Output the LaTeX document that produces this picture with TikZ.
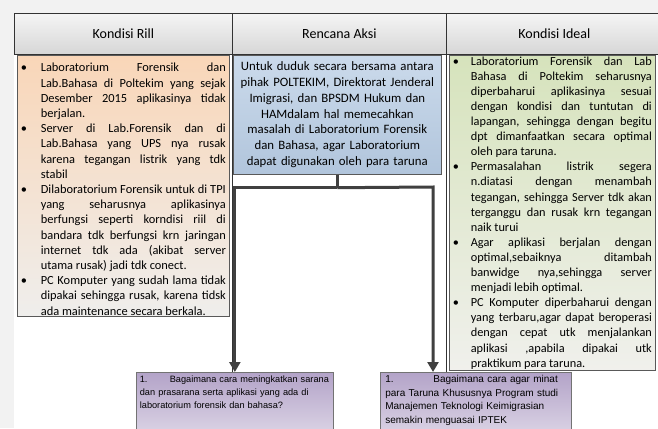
\documentclass[tikz,border=0pt]{standalone}
\usepackage{fontspec}
\setmainfont{Carlito}
\newfontfamily\arialfont{Liberation Sans}
\usetikzlibrary{arrows.meta}
\definecolor{rillatas}{HTML}{F9D6B8}
\definecolor{rillbawah}{HTML}{EFEEEC}
\definecolor{aksiatas}{HTML}{CBDAEB}
\definecolor{aksibawah}{HTML}{B1C5DC}
\definecolor{idealatas}{HTML}{D6E3BC}
\definecolor{idealbawah}{HTML}{F0F0EC}
\definecolor{ungu}{HTML}{B3A3C8}
\definecolor{ungumuda}{HTML}{E2DCEA}
\newlength{\jarak}
\setlength{\jarak}{20pt}
\newcommand{\poinawal}{\noindent\hangindent=\jarak\hangafter=1\makebox[\jarak][l]{\textbullet}}
\newcommand{\poin}{\par\poinawal}
\begin{document}
\begin{tikzpicture}[x=1pt,y=-1pt,
    kepala/.style={draw=black!80,line width=0.8pt,top color=black!4,bottom color=black!16,
      anchor=north west,minimum height=41pt,inner sep=0pt,font=\fontsize{14}{16}\selectfont},
    kotak/.style={draw=black!65,line width=0.7pt,anchor=north west,inner ysep=0pt,
      font=\fontsize{12.4}{15.2}\selectfont},
    tanya/.style={draw=black!55,line width=0.7pt,top color=ungu,bottom color=ungumuda,
      anchor=north west,align=left,inner ysep=3pt,text depth=60pt},
    garis/.style={line width=3pt,draw=black!75},
    panah/.style={garis,-{Triangle[length=10pt,width=11pt]}}]
  \useasboundingbox (0,0) rectangle (658,428);
  \clip (0,0) rectangle (658,428);
  \fill[black!5] (0,0) rectangle (658,428);
  \fill[white] (14,13) rectangle (658,428);

  \node[kepala,minimum width=218pt] (rill) at (14,13) {Kondisi Rill};
  \node[kepala,minimum width=214pt] (rencana) at (232,13) {Rencana Aksi};
  \node[kepala,minimum width=216pt] (ideal) at (446,13) {Kondisi Ideal};

  \node[kotak,top color=rillatas,bottom color=rillbawah,text width=205pt,inner xsep=3.5pt,
    minimum height=261pt,align=justify] (rillisi) at (17,55) {%
    \poin Laboratorium Forensik dan\linebreak Lab.Bahasa di Poltekim yang sejak\linebreak
    Desember 2015 aplikasinya tidak\linebreak berjalan.
    \poin Server di Lab.Forensik dan di\linebreak Lab.Bahasa yang UPS nya rusak\linebreak
    karena tegangan listrik yang tdk\linebreak stabil
    \poin Dilaboratorium Forensik untuk di TPI\linebreak yang seharusnya aplikasinya\linebreak
    berfungsi seperti korndisi riil di\linebreak bandara tdk berfungsi krn jaringan\linebreak
    internet tdk ada (akibat server\linebreak utama rusak) jadi tdk conect.
    \poin PC Komputer yang sudah lama tidak\linebreak dipakai sehingga rusak, karena tidsk\linebreak
    ada maintenance secara berkala.\par};

  \node[kotak,top color=aksiatas,bottom color=aksibawah,text width=204pt,inner xsep=2pt,
    minimum height=119pt,align=center,font=\fontsize{12.8}{15.8}\selectfont] (aksi) at (233,55)
    {Untuk duduk secara bersama antara\\ pihak POLTEKIM, Direktorat Jenderal\\
     Imigrasi, dan BPSDM Hukum dan\\ HAMdalam hal memecahkan\\
     masalah di Laboratorium Forensik\\ dan Bahasa, agar Laboratorium\\
     dapat digunakan oleh para taruna};

  \node[kotak,top color=idealatas,bottom color=idealbawah,text width=199pt,inner xsep=3.5pt,
    minimum height=315pt,align=justify,font=\fontsize{12.3}{15.1}\selectfont] (idealisi) at (449,55) {%
    \setlength{\jarak}{18pt}%
    \poinawal Laboratorium Forensik dan Lab\linebreak Bahasa di Poltekim seharusnya\linebreak
    diperbaharui aplikasinya sesuai\linebreak dengan kondisi dan tuntutan di\linebreak
    lapangan, sehingga dengan begitu\linebreak dpt dimanfaatkan secara optimal\linebreak
    oleh para taruna.
    \poin Permasalahan listrik segera\linebreak n.diatasi dengan menambah\linebreak
    tegangan, sehingga Server tdk akan\linebreak terganggu dan rusak krn tegangan\linebreak
    naik turui
    \poin Agar aplikasi berjalan dengan\linebreak optimal,sebaiknya ditambah\linebreak
    banwidge nya,sehingga server\linebreak menjadi lebih optimal.
    \poin PC Komputer diperbaharui dengan\linebreak yang terbaru,agar dapat beroperasi\linebreak
    dengan cepat utk menjalankan\linebreak aplikasi ,apabila dipakai utk\linebreak
    praktikum para taruna.\par};

  \node[tanya,text width=190pt,inner xsep=3.5pt,font=\arialfont\fontsize{9.2}{13}\selectfont]
    (tanyaA) at (136,372)
    {\makebox[30pt][l]{1.}Bagaimana cara meningkatkan sarana\\
     dan prasarana serta aplikasi yang ada di\\ laboratorium forensik dan bahasa?};
  \node[tanya,text width=181pt,inner xsep=5pt,font=\arialfont\fontsize{10}{13.5}\selectfont]
    (tanyaB) at (380,372)
    {\makebox[48pt][l]{1.}Bagaimana cara agar minat\\
     para Taruna Khususnya Program studi\\ Manajemen Teknologi Keimigrasian\\
     semakin menguasai IPTEK};

  \draw[black!80,line width=0.8pt] (rill.south east) -- (rill.south east |- tanyaA.north);
  \draw[black!80,line width=0.8pt] (ideal.south west) -- (ideal.south west |- tanyaB.north);

  \path (aksi.south) ++(0,13) coordinate (cabang);
  \coordinate (kanan) at (433,187);
  \draw[garis] (aksi.south) -- (cabang);
  \draw[panah] (cabang) -| (tanyaA.north);
  \draw[panah] (cabang) -- (kanan) -- (kanan |- tanyaB.north);
\end{tikzpicture}
\end{document}
